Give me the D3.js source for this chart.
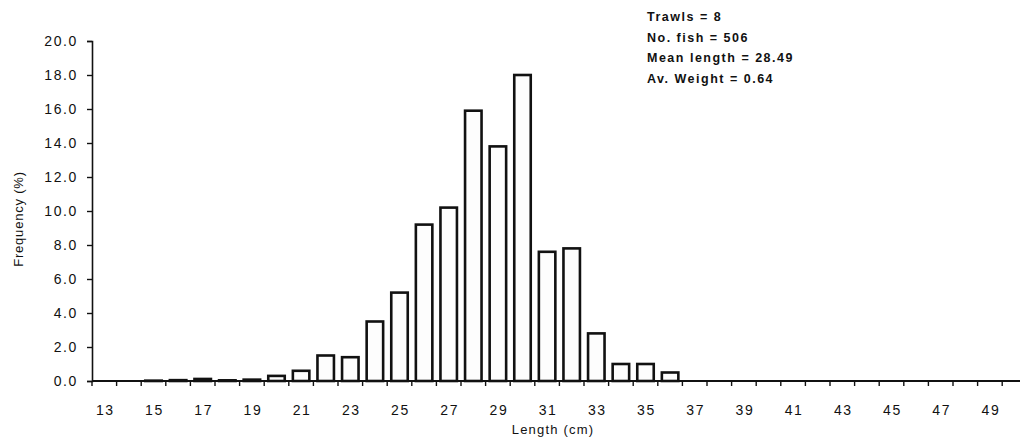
<!DOCTYPE html>
<html>
<head>
<meta charset="utf-8">
<script src="https://cdn.jsdelivr.net/npm/d3@7"></script>
<style>
  body { margin: 0; background: #fff; }
  svg { display: block; }
  text { font-family: "Liberation Sans", Arial, sans-serif; fill: #111; }
</style>
</head>
<body>
<script>
'use strict';

// length classes (cm) and frequency (%)
const lengths = d3.range(13, 51);
const frequency = [
  0, 0, 0.02, 0.05, 0.12, 0.04, 0.08, 0.3, 0.6, 1.5,
  1.4, 3.5, 5.2, 9.2, 10.2, 15.9, 13.8, 18.0, 7.6, 7.8,
  2.8, 1.0, 1.0, 0.5, 0, 0, 0, 0, 0, 0,
  0, 0, 0, 0, 0, 0, 0, 0
];
const yTicks = [0, 2, 4, 6, 8, 10, 12, 14, 16, 18, 20];
const xLabels = d3.range(13, 50, 2);
const notes = ["Trawls = 8", "No. fish = 506", "Mean length = 28.49", "Av. Weight = 0.64"];

(function () {
  let svg = "";

  window.onload = function () {
    svg = d3.select('body')
      .append('svg')
      .attr('width', 1020)
      .attr('height', 439);

    let rows = lengths.map((d, i) => ({ length: d, freq: frequency[i] }));
    let funcs = drawAxes();
    plotBars(funcs, rows);
    makeLabels();
  }

  // axes: band scale for length classes, linear for frequency
  function drawAxes() {
    let xScale = d3.scaleBand()
      .domain(lengths)
      .range([92, 92 + lengths.length * 24.6])
      .paddingInner(0.33)
      .paddingOuter(0.165);

    let yScale = d3.scaleLinear()
      .domain([0, 20])
      .range([381, 41]);

    // y axis
    let yAxis = d3.axisLeft(yScale)
      .tickValues(yTicks)
      .tickSize(5)
      .tickPadding(9)
      .tickFormat(d3.format('.1f'));
    let gy = svg.append('g')
      .attr('transform', 'translate(92, 0)')
      .call(yAxis);
    gy.select('.domain').attr('stroke', '#111').attr('stroke-width', 1.6);
    gy.selectAll('.tick line').attr('stroke', '#111').attr('stroke-width', 1.4);
    gy.selectAll('.tick text')
      .style('font-size', '14px')
      .style('letter-spacing', '1.6px')
      .attr('fill', '#111');

    // x axis line
    svg.append('line')
      .attr('x1', 92)
      .attr('x2', 1020)
      .attr('y1', 381)
      .attr('y2', 381)
      .attr('stroke', '#111')
      .attr('stroke-width', 1.8);

    // tick marks between length classes
    let step = xScale.step();
    svg.selectAll('.xtick')
      .data(lengths)
      .enter()
      .append('line')
      .attr('class', 'xtick')
      .attr('x1', (d) => xScale(d) + xScale.bandwidth() / 2 - step / 2)
      .attr('x2', (d) => xScale(d) + xScale.bandwidth() / 2 - step / 2)
      .attr('y1', 381)
      .attr('y2', 386)
      .attr('stroke', '#111')
      .attr('stroke-width', 1.4);

    // labels every second class
    svg.selectAll('.xlabel')
      .data(xLabels)
      .enter()
      .append('text')
      .attr('class', 'xlabel')
      .attr('x', (d) => xScale(d) + xScale.bandwidth() / 2 + 1)
      .attr('y', 415)
      .attr('text-anchor', 'middle')
      .style('font-size', '14px')
      .style('letter-spacing', '1.6px')
      .text((d) => d);

    return { x: xScale, y: yScale };
  }

  // draw the bars as open boxes
  function plotBars(funcs, rows) {
    svg.selectAll('.bar')
      .data(rows)
      .enter()
      .append('rect')
      .attr('class', 'bar')
      .attr('x', (d) => funcs.x(d.length))
      .attr('y', (d) => funcs.y(d.freq))
      .attr('width', funcs.x.bandwidth())
      .attr('height', (d) => funcs.y(0) - funcs.y(d.freq))
      .attr('fill', '#fdfdfd')
      .attr('stroke', '#111')
      .attr('stroke-width', 2.6);
  }

  // axis titles and the summary block
  function makeLabels() {
    svg.append('text')
      .attr('transform', 'translate(23, 219)rotate(-90)')
      .attr('text-anchor', 'middle')
      .style('font-size', '13px')
      .style('letter-spacing', '0.8px')
      .text('Frequency (%)');

    svg.append('text')
      .attr('x', 553)
      .attr('y', 434)
      .attr('text-anchor', 'middle')
      .style('font-size', '13px')
      .style('letter-spacing', '1.2px')
      .text('Length (cm)');

    svg.selectAll('.note')
      .data(notes)
      .enter()
      .append('text')
      .attr('class', 'note')
      .attr('x', 647)
      .attr('y', (d, i) => 21 + i * 20.7)
      .style('font-size', '12.5px')
      .style('font-weight', 'bold')
      .style('letter-spacing', '1.5px')
      .text((d) => d);
  }

})();
</script>
</body>
</html>
